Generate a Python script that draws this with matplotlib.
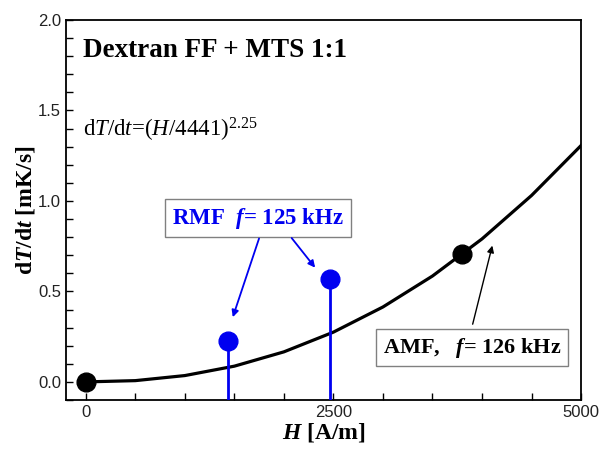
import matplotlib
matplotlib.use('Agg')
import matplotlib.pyplot as plt
from matplotlib.ticker import MultipleLocator

# Fit curve dT/dt = (H/4441)^2.25
curve_h = [0, 500, 1000, 1500, 2000, 2500, 3000, 3500, 4000, 4500, 5000]
curve_rate = [0.0, 0.007, 0.035, 0.087, 0.166, 0.275, 0.414, 0.585, 0.790, 1.030, 1.306]

# AMF measurements (black dots)
amf_h = [0, 3800]
amf_rate = [0.0, 0.707]

# RMF measurements (blue dots with stems)
rmf_h = [1435, 2465]
rmf_rate = [0.227, 0.57]

plt.rcParams['font.family'] = 'Liberation Sans'
plt.rcParams['mathtext.fontset'] = 'custom'
plt.rcParams['mathtext.rm'] = 'Liberation Serif'
plt.rcParams['mathtext.it'] = 'Liberation Serif:italic'
plt.rcParams['mathtext.bf'] = 'Liberation Serif:bold'
plt.rcParams['mathtext.bfit'] = 'Liberation Serif:bold:italic'

serif = 'Liberation Serif'
blue = '#0000f0'

fig = plt.figure(figsize=(6.01, 4.53), dpi=100)
ax = fig.add_axes([0.1098, 0.1170, 0.857, 0.839])

ax.plot(curve_h, curve_rate, color='black', lw=2.3, zorder=2)
ax.vlines(rmf_h, -0.1, rmf_rate, color=blue, lw=2, zorder=3)
ax.plot(rmf_h, rmf_rate, 'o', color=blue, ms=13.5, zorder=4)
ax.plot(amf_h, amf_rate, 'o', color='black', ms=13.5, zorder=4)

ax.set_xlim(-200, 5000)
ax.set_ylim(-0.1, 2.0)
ax.xaxis.set_major_locator(MultipleLocator(2500))
ax.xaxis.set_minor_locator(MultipleLocator(500))
ax.yaxis.set_major_locator(MultipleLocator(0.5))
ax.yaxis.set_minor_locator(MultipleLocator(0.1))
ax.tick_params(which='both', direction='in', top=False, right=False,
               labelsize=12, width=1, length=5, labelcolor='#222222')
ax.yaxis.set_major_formatter(plt.FuncFormatter(lambda v, p: f'{v:.1f}'))
for s in ax.spines.values():
    s.set_linewidth(1.3)

ax.set_xlabel(r'$\mathbfit{H}$ [A/m]', family=serif, fontweight='bold',
              fontsize=17, labelpad=1)
ax.set_ylabel(r'd$\mathbfit{T}$/d$\mathbfit{t}$ [mK/s]', family=serif,
              fontweight='bold', fontsize=17, labelpad=1)

ax.text(0.033, 0.92, 'Dextran FF + MTS 1:1', transform=ax.transAxes,
        family=serif, fontweight='bold', fontsize=19.5, va='center')
ax.text(0.033, 0.71, r'd$T$/d$t$=($H$/4441)$^{2.25}$',
        transform=ax.transAxes, family=serif, fontsize=16.5, va='center')

# RMF label with two arrows
box = dict(boxstyle='square,pad=0.3', fc='white', ec='#808080', lw=1)
ax.text(1740, 0.905, r'RMF  $\mathbfit{f}$= 125 kHz', family=serif,
        fontweight='bold', fontsize=16.5, color=blue, ha='center', va='center',
        bbox=box, zorder=5)
ax.annotate('', xy=(1475, 0.343), xytext=(1758, 0.807),
            arrowprops=dict(arrowstyle='-|>', color=blue, lw=1.3,
                            mutation_scale=10), zorder=5)
ax.annotate('', xy=(2333, 0.619), xytext=(2061, 0.807),
            arrowprops=dict(arrowstyle='-|>', color=blue, lw=1.3,
                            mutation_scale=10), zorder=5)

# AMF label with arrow
ax.text(3900, 0.19, r'AMF,   $\mathbfit{f}$= 126 kHz', family=serif,
        fontweight='bold', fontsize=16, color='black', ha='center',
        va='center', bbox=box, zorder=5)
ax.annotate('', xy=(4111, 0.768), xytext=(3899, 0.304),
            arrowprops=dict(arrowstyle='-|>', color='black', lw=1,
                            mutation_scale=10), zorder=5)

fig.savefig('out.png', dpi=100)
